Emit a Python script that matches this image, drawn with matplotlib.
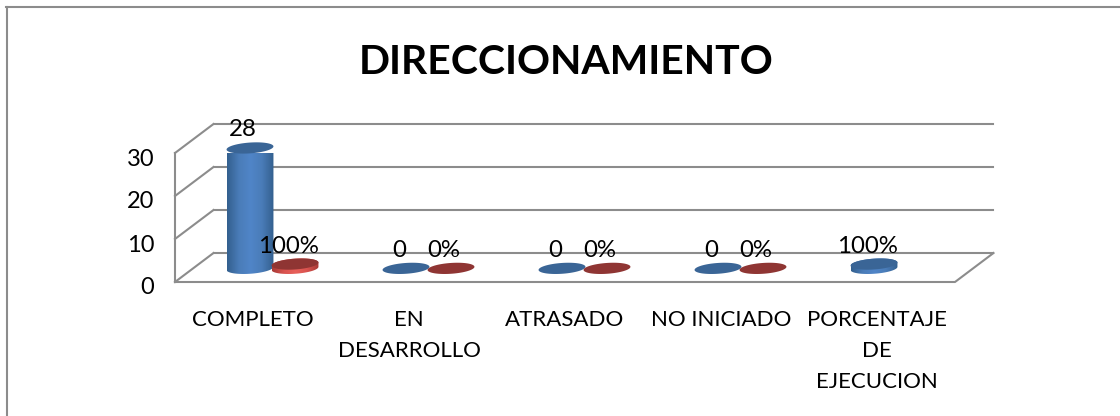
import numpy as np
import matplotlib
matplotlib.use('Agg')
import matplotlib.pyplot as plt
from matplotlib.colors import LinearSegmentedColormap
from matplotlib.lines import Line2D
from matplotlib.patches import Polygon
from matplotlib.transforms import ScaledTranslation

categories = ['COMPLETO', 'EN\nDESARROLLO', 'ATRASADO', 'NO INICIADO', 'PORCENTAJE\nDE\nEJECUCION']
values_count = [28, 0, 0, 0, 1]
labels_count = ['28', '0', '0', '0', '100%']
values_pct = [1, 0, 0, 0]
labels_pct = ['100%', '0%', '0%', '0%']
y_ticks = [0, 10, 20, 30]
title = 'DIRECCIONAMIENTO'

plt.rcParams['font.family'] = ['Lato', 'DejaVu Sans']

W, H = 1120, 416
GRAY = '#8c8c8c'

fig = plt.figure(figsize=(W / 100, H / 100), dpi=100)
fig.patch.set_facecolor('white')

# outer frame, only left and top are visible
fig.add_artist(Line2D([6.5 / W, 6.5 / W], [0, 1 - 7 / H], color=GRAY, lw=1.5))
fig.add_artist(Line2D([6 / W, 1], [1 - 7 / H, 1 - 7 / H], color=GRAY, lw=1.5))

fig.text(566 / W, 1 - 63 / H, title, ha='center', va='center', fontsize=29.4, fontweight='bold', color='black')

# axes is the front plane of the 3D box
ax = fig.add_axes([175 / W, 1 - 282 / H, 780 / W, 129 / H])
ax.patch.set_alpha(0)
px_x = 5 / 780
px_y = 30 / 129
depth_x = 38.5 * px_x
depth_y = 29 * px_y

for s in ax.spines.values():
    s.set_visible(False)

for v in y_ticks:
    ax.plot([-0.5, -0.5 + depth_x], [v, v + depth_y], color=GRAY, lw=1.5, clip_on=False, zorder=1)
    ax.plot([-0.5 + depth_x, 4.5 + depth_x], [v + depth_y, v + depth_y], color=GRAY, lw=1.5, clip_on=False, zorder=1)
ax.plot([-0.5, -0.5], [0, 30], color=GRAY, lw=1.5, clip_on=False, zorder=1)
ax.plot([-0.5, 4.5, 4.5 + depth_x], [0, 0, depth_y], color=GRAY, lw=1.5, clip_on=False, zorder=1)


def ellipse_xy(cx, cy, t):
    a, b, tilt = 23.5, 5.4, np.radians(4)
    x = a * np.cos(t) * np.cos(tilt) - b * np.sin(t) * np.sin(tilt)
    y = a * np.cos(t) * np.sin(tilt) + b * np.sin(t) * np.cos(tilt)
    return cx + x * px_x, cy + y * px_y


def cylinder(cx, value, side, top):
    cy = depth_y / 2 - 0.2
    if value > 0:
        t1 = np.linspace(np.pi, 2 * np.pi, 40)
        t2 = np.linspace(0, np.pi, 40)
        x1, y1 = ellipse_xy(cx, cy, t1)
        x2, y2 = ellipse_xy(cx, cy + value, t2)
        body = Polygon(np.column_stack([np.r_[x1, x2], np.r_[y1, y2]]), fc='none', ec='none', clip_on=False)
        ax.add_patch(body)
        cmap = LinearSegmentedColormap.from_list('side', side)
        grad = np.linspace(0, 1, 64).reshape(1, -1)
        im = ax.imshow(grad, cmap=cmap, aspect='auto', zorder=2,
                       extent=[min(x1.min(), x2.min()), max(x1.max(), x2.max()), cy - 2, cy + value + 2])
        im.set_clip_path(body)
    xt, yt = ellipse_xy(cx, cy + value, np.linspace(0, 2 * np.pi, 80))
    ax.fill(xt, yt, color=top, lw=0, zorder=3, clip_on=False)


blue_side = ['#33608f', '#4a7cb8', '#5085c8', '#4a7cb8', '#33608f']
red_side = ['#a83a36', '#d9534f', '#e8605a', '#d9534f', '#a83a36']
blue_top = '#3a6596'
red_top = '#8f3533'
offset_blue = -3 * px_x
offset_red = 42 * px_x

positions = np.arange(len(categories))
for i, v in enumerate(values_count):
    cx = positions[i] + offset_blue
    cylinder(cx, v, blue_side, blue_top)
    ax.annotate(labels_count[i], (cx, depth_y / 2 - 0.2 + v), xytext=(-7, 18), textcoords='offset pixels',
                ha='center', va='center', fontsize=17.3, color='black', annotation_clip=False, zorder=5)
for i, v in enumerate(values_pct):
    cx = positions[i] + offset_red
    cylinder(cx, v, red_side, red_top)
    ax.annotate(labels_pct[i], (cx, depth_y / 2 - 0.2 + v), xytext=(-7, 18), textcoords='offset pixels',
                ha='center', va='center', fontsize=17.3, color='black', annotation_clip=False, zorder=5)

ax.set_xlim(-0.5, 4.5)
ax.set_ylim(0, 30)
ax.set_xticks(positions)
ax.set_xticklabels(categories, fontsize=16, linespacing=1.7)
ax.set_yticks(y_ticks)
ax.set_yticklabels([str(v) for v in y_ticks], fontsize=17)
ax.tick_params(axis='x', length=0, pad=20)
ax.tick_params(axis='y', length=0, pad=15)
for lab in ax.get_yticklabels():
    lab.set_transform(lab.get_transform() + ScaledTranslation(0, -4 / 100, fig.dpi_scale_trans))

fig.savefig('out.png', dpi=100)
